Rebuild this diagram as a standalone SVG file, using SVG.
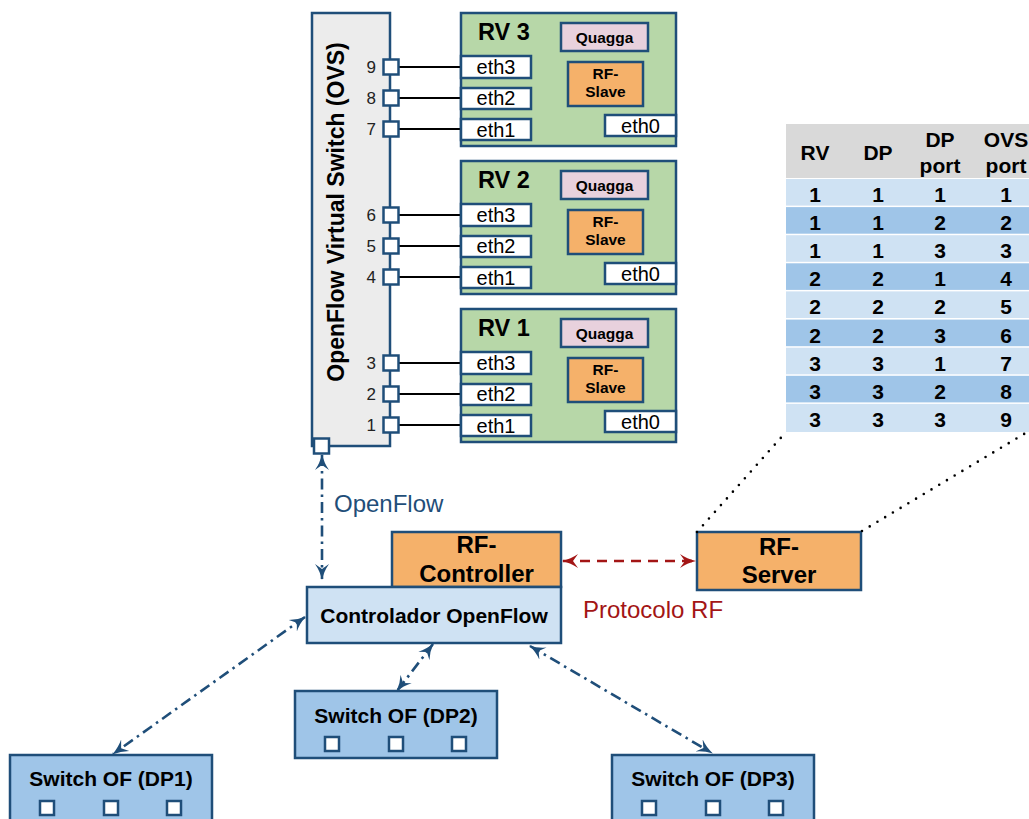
<svg xmlns="http://www.w3.org/2000/svg" width="1029" height="819" viewBox="0 0 1029 819">
  <style>
    text { font-family: "Liberation Sans", Arial, sans-serif; }
    .box { stroke: #1f4e79; stroke-width: 2.5; }
    .rv { fill: #b7d7a8; }
    .quagga { fill: #e8d1dd; }
    .orange { fill: #f5b16a; }
    .ovs { fill: #ececec; }
    .ctrl { fill: #cfe2f3; }
    .sw { fill: #9fc5e8; }
    .white { fill: #ffffff; }
    .port { fill: #ffffff; stroke: #1f4e79; stroke-width: 2.5; }
    .wire { stroke: #000000; stroke-width: 2.2; }
    .b { font-weight: bold; fill: #000; }
    .rvlabel { font-size: 23.5px; }
    .small { font-size: 15.5px; text-anchor: middle; }
    .eth { font-size: 20px; text-anchor: middle; fill: #000; }
    .pnum { font-size: 17px; text-anchor: end; fill: #222; }
    .big { font-size: 24px; text-anchor: middle; }
    .mid { font-size: 21px; text-anchor: middle; }
    .tbl { font-size: 21px; font-weight: bold; text-anchor: middle; fill: #000; }
    .of { stroke: #1f4e79; stroke-width: 2.6; fill: none; stroke-dasharray: 11 5 2.5 5; }
    .rf { stroke: #a31515; stroke-width: 2.6; fill: none; stroke-dasharray: 10 7; }
    .dots { stroke: #000; stroke-width: 2.6; stroke-linecap: round; stroke-dasharray: 0 9; fill: none; }
  </style>
  <defs>
    <marker id="ah-blue" viewBox="0 0 16 16" refX="15" refY="8" markerWidth="16" markerHeight="16" markerUnits="userSpaceOnUse" orient="auto-start-reverse">
      <path d="M0,1 Q7,6 16,8 Q7,10 0,15 L5,8 z" fill="#1f4e79"/>
    </marker>
    <marker id="ah-red" viewBox="0 0 16 16" refX="15" refY="8" markerWidth="16" markerHeight="16" markerUnits="userSpaceOnUse" orient="auto-start-reverse">
      <path d="M0,1 Q7,6 16,8 Q7,10 0,15 L5,8 z" fill="#a31515"/>
    </marker>
    <!-- one virtual router (RV) with its interfaces; placed with translate -->
    <g id="rv-body">
      <rect class="box rv" x="461" y="0" width="215" height="133"/>
      <rect class="box quagga" x="561" y="10" width="87" height="28"/>
      <text class="b small" x="604.5" y="30">Quagga</text>
      <rect class="box orange" x="568" y="49" width="75" height="44"/>
      <text class="b small" x="605.5" y="66">RF-</text>
      <text class="b small" x="605.5" y="84">Slave</text>
      <rect class="box white" x="605" y="102" width="71" height="21"/>
      <text class="eth" x="640.5" y="120">eth0</text>
      <line class="wire" x1="398" y1="54" x2="461" y2="54"/>
      <line class="wire" x1="398" y1="85" x2="461" y2="85"/>
      <line class="wire" x1="398" y1="116" x2="461" y2="116"/>
      <rect class="box white" x="461" y="43" width="70" height="22"/>
      <text class="eth" x="496" y="61">eth3</text>
      <rect class="box white" x="461" y="75" width="70" height="21"/>
      <text class="eth" x="496" y="92">eth2</text>
      <rect class="box white" x="461" y="106" width="70" height="21"/>
      <text class="eth" x="496" y="124">eth1</text>
    </g>
  </defs>

  <!-- OVS switch -->
  <g id="ovs">
    <rect class="box ovs" x="312" y="13" width="78" height="433"/>
    <text class="b" font-size="23" text-anchor="middle" transform="translate(344,212) rotate(-90)">OpenFlow Virtual Switch (OVS)</text>
    <rect class="port" x="314" y="438.5" width="15" height="15"/>
  </g>

  <!-- virtual routers -->
  <g id="rv3" transform="translate(0,13)">
    <use href="#rv-body"/>
    <text class="b rvlabel" x="478" y="27">RV 3</text>
  </g>
  <g id="rv2" transform="translate(0,161)">
    <use href="#rv-body"/>
    <text class="b rvlabel" x="478" y="27">RV 2</text>
  </g>
  <g id="rv1" transform="translate(0,309)">
    <use href="#rv-body"/>
    <text class="b rvlabel" x="478" y="27">RV 1</text>
  </g>

  <!-- OVS ports 1..9 -->
  <g id="ovs-ports">
    <rect class="port" x="383.5" y="59.5" width="15" height="15"/><text class="pnum" x="376" y="73">9</text>
    <rect class="port" x="383.5" y="90.5" width="15" height="15"/><text class="pnum" x="376" y="104">8</text>
    <rect class="port" x="383.5" y="121.5" width="15" height="15"/><text class="pnum" x="376" y="135">7</text>
    <rect class="port" x="383.5" y="207.5" width="15" height="15"/><text class="pnum" x="376" y="221">6</text>
    <rect class="port" x="383.5" y="238.5" width="15" height="15"/><text class="pnum" x="376" y="252">5</text>
    <rect class="port" x="383.5" y="269.5" width="15" height="15"/><text class="pnum" x="376" y="283">4</text>
    <rect class="port" x="383.5" y="355.5" width="15" height="15"/><text class="pnum" x="376" y="369">3</text>
    <rect class="port" x="383.5" y="386.5" width="15" height="15"/><text class="pnum" x="376" y="400">2</text>
    <rect class="port" x="383.5" y="417.5" width="15" height="15"/><text class="pnum" x="376" y="431">1</text>
  </g>

  <!-- mapping table -->
  <g id="table">
    <rect x="786" y="124" width="243" height="54" fill="#d9d9d9"/>
    <rect x="786" y="179" width="243" height="26.6" fill="#cfe2f3"/>
    <rect x="786" y="207.1" width="243" height="26.6" fill="#9fc5e8"/>
    <rect x="786" y="235.2" width="243" height="26.6" fill="#cfe2f3"/>
    <rect x="786" y="263.3" width="243" height="26.6" fill="#9fc5e8"/>
    <rect x="786" y="291.4" width="243" height="26.6" fill="#cfe2f3"/>
    <rect x="786" y="319.6" width="243" height="26.6" fill="#9fc5e8"/>
    <rect x="786" y="347.7" width="243" height="26.6" fill="#cfe2f3"/>
    <rect x="786" y="375.8" width="243" height="26.6" fill="#9fc5e8"/>
    <rect x="786" y="403.9" width="243" height="28.1" fill="#cfe2f3"/>
    <text class="tbl" x="815" y="160">RV</text>
    <text class="tbl" x="878" y="160">DP</text>
    <text class="tbl" x="940" y="147">DP</text>
    <text class="tbl" x="940" y="173">port</text>
    <text class="tbl" x="1006" y="147">OVS</text>
    <text class="tbl" x="1006" y="173">port</text>
    <g>
      <text class="tbl" x="815" y="202">1</text><text class="tbl" x="878" y="202">1</text><text class="tbl" x="940" y="202">1</text><text class="tbl" x="1006" y="202">1</text>
      <text class="tbl" x="815" y="230.1">1</text><text class="tbl" x="878" y="230.1">1</text><text class="tbl" x="940" y="230.1">2</text><text class="tbl" x="1006" y="230.1">2</text>
      <text class="tbl" x="815" y="258.2">1</text><text class="tbl" x="878" y="258.2">1</text><text class="tbl" x="940" y="258.2">3</text><text class="tbl" x="1006" y="258.2">3</text>
      <text class="tbl" x="815" y="286.3">2</text><text class="tbl" x="878" y="286.3">2</text><text class="tbl" x="940" y="286.3">1</text><text class="tbl" x="1006" y="286.3">4</text>
      <text class="tbl" x="815" y="314.4">2</text><text class="tbl" x="878" y="314.4">2</text><text class="tbl" x="940" y="314.4">2</text><text class="tbl" x="1006" y="314.4">5</text>
      <text class="tbl" x="815" y="342.6">2</text><text class="tbl" x="878" y="342.6">2</text><text class="tbl" x="940" y="342.6">3</text><text class="tbl" x="1006" y="342.6">6</text>
      <text class="tbl" x="815" y="370.7">3</text><text class="tbl" x="878" y="370.7">3</text><text class="tbl" x="940" y="370.7">1</text><text class="tbl" x="1006" y="370.7">7</text>
      <text class="tbl" x="815" y="398.8">3</text><text class="tbl" x="878" y="398.8">3</text><text class="tbl" x="940" y="398.8">2</text><text class="tbl" x="1006" y="398.8">8</text>
      <text class="tbl" x="815" y="427">3</text><text class="tbl" x="878" y="427">3</text><text class="tbl" x="940" y="427">3</text><text class="tbl" x="1006" y="427">9</text>
    </g>
  </g>

  <!-- controllers -->
  <g id="rf-controller">
    <rect class="box orange" x="392" y="532" width="169" height="55"/>
    <text class="b big" x="476.5" y="553">RF-</text>
    <text class="b big" x="476.5" y="582">Controller</text>
  </g>
  <g id="controlador-openflow">
    <rect class="box ctrl" x="307" y="587" width="254" height="56"/>
    <text class="b" font-size="21" text-anchor="middle" x="434" y="623">Controlador OpenFlow</text>
  </g>
  <g id="rf-server">
    <rect class="box orange" x="697" y="532" width="164" height="58"/>
    <text class="b big" x="779" y="555">RF-</text>
    <text class="b big" x="779" y="583">Server</text>
  </g>

  <!-- OpenFlow switches -->
  <g id="switch-dp1">
    <rect class="box sw" x="10" y="755" width="202" height="70"/>
    <text class="b mid" x="111" y="786">Switch OF (DP1)</text>
    <rect class="port" x="40" y="801" width="14" height="14"/>
    <rect class="port" x="104" y="801" width="14" height="14"/>
    <rect class="port" x="167" y="801" width="14" height="14"/>
  </g>
  <g id="switch-dp2">
    <rect class="box sw" x="295" y="691" width="202" height="67"/>
    <text class="b mid" x="396" y="723">Switch OF (DP2)</text>
    <rect class="port" x="325" y="737" width="14" height="14"/>
    <rect class="port" x="389" y="737" width="14" height="14"/>
    <rect class="port" x="452" y="737" width="14" height="14"/>
  </g>
  <g id="switch-dp3">
    <rect class="box sw" x="612" y="755" width="202" height="70"/>
    <text class="b mid" x="713" y="786">Switch OF (DP3)</text>
    <rect class="port" x="642" y="801" width="14" height="14"/>
    <rect class="port" x="706" y="801" width="14" height="14"/>
    <rect class="port" x="769" y="801" width="14" height="14"/>
  </g>

  <!-- connectors -->
  <g id="connectors">
    <path class="of" d="M322,455 L322,579" marker-start="url(#ah-blue)" marker-end="url(#ah-blue)"/>
    <path class="of" d="M305,617 L113,754" marker-start="url(#ah-blue)" marker-end="url(#ah-blue)"/>
    <path class="of" d="M433,644 L397,691" marker-start="url(#ah-blue)" marker-end="url(#ah-blue)"/>
    <path class="of" d="M530,646 L712,753" marker-start="url(#ah-blue)" marker-end="url(#ah-blue)"/>
    <path class="rf" d="M563,561 L695,561" marker-start="url(#ah-red)" marker-end="url(#ah-red)"/>
    <path class="dots" d="M697,532 L786,432"/>
    <path class="dots" d="M862,531 L1029,431"/>
  </g>

  <!-- link labels -->
  <text x="334" y="512" font-size="24" fill="#1f4e79">OpenFlow</text>
  <text x="583" y="618" font-size="24" fill="#a31515">Protocolo RF</text>
</svg>
